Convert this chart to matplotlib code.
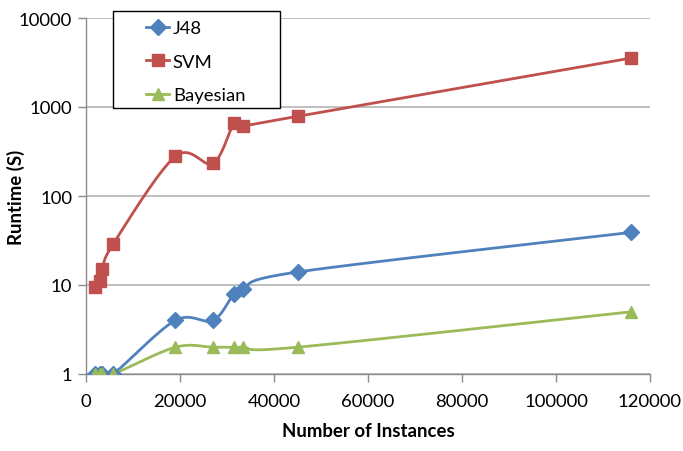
import numpy as np
import matplotlib
matplotlib.use("Agg")
import matplotlib.pyplot as plt
from matplotlib.patches import Rectangle
from matplotlib.ticker import FixedLocator, FixedFormatter, NullLocator

plt.rcParams['font.family'] = ['Lato', 'DejaVu Sans']

instances = [2000, 3000, 3500, 5800, 19000, 27000, 31500, 33500, 45000, 116000]
j48 = [1, 1, 1, 1, 4, 4, 8, 9, 14, 39]
svm = [9.5, 11, 15, 29, 278, 233, 655, 615, 785, 3550]
bayesian = [1, 1, 1, 1, 2, 2, 2, 2, 2, 5]

series = [
    ("J48", j48, "#4F81BD", "D", 8),
    ("SVM", svm, "#C0504D", "s", 9),
    ("Bayesian", bayesian, "#9BBB59", "^", 9),
]


def smooth(x, y, steps=30):
    """Bezier smoothing like spreadsheet 'smoothed line' charts, done in (x, log y)."""
    px = np.asarray(x, float) / 120000.0
    py = np.log10(np.asarray(y, float))
    pts = np.column_stack([px, py])
    n = len(pts)
    out = [pts[0]]
    t = np.linspace(0, 1, steps)[1:, None]
    for i in range(n - 1):
        p0 = pts[max(i - 1, 0)]
        p1 = pts[i]
        p2 = pts[i + 1]
        p3 = pts[min(i + 2, n - 1)]
        c1 = p1 + (p2 - p0) / 6.0
        c2 = p2 - (p3 - p1) / 6.0
        seg = ((1 - t) ** 3) * p1 + 3 * ((1 - t) ** 2) * t * c1 + 3 * (1 - t) * t ** 2 * c2 + t ** 3 * p2
        out.extend(seg)
    out = np.array(out)
    return out[:, 0] * 120000.0, 10 ** out[:, 1]


W, H = 683, 452
fig = plt.figure(figsize=(W / 100, H / 100), dpi=100)
ax = fig.add_axes([86 / W, 1 - 375 / H, 564 / W, 356 / H])

for name, vals, color, marker, ms in series:
    sx, sy = smooth(instances, vals)
    ax.plot(sx, sy, color=color, lw=2.0, zorder=3)
    ax.plot(instances, vals, linestyle='none', marker=marker, markersize=ms,
            color=color, zorder=4)
    # legend proxy: line with marker
    ax.plot([], [], color=color, lw=2.0, marker=marker, markersize=ms, label=name)

ax.set_yscale('log')
ax.set_xlim(0, 120000)
ax.set_ylim(1, 10000)

yt = [1, 10, 100, 1000, 10000]
ax.yaxis.set_major_locator(FixedLocator(yt))
ax.yaxis.set_major_formatter(FixedFormatter([str(v) for v in yt]))
ax.yaxis.set_minor_locator(NullLocator())
xt = list(range(0, 120001, 20000))
ax.set_xticks(xt)
ax.set_xticklabels([str(v) for v in xt])

ax.grid(axis='y', color='#b4b4b4', lw=1.2)
ax.set_axisbelow(True)
for s in ('top', 'right'):
    ax.spines[s].set_visible(False)
for s in ('left', 'bottom'):
    ax.spines[s].set_color('#8c8c8c')
    ax.spines[s].set_linewidth(1.0)
ax.tick_params(axis='both', direction='out', length=6, width=1.0, color='#8c8c8c',
               labelsize=13.3, pad=4, labelcolor='black')
ax.tick_params(axis='x', pad=8)

ax.set_xlabel('Number of Instances', fontsize=13.4, fontweight='bold', labelpad=9)
ax.set_ylabel('Runtime (S)', fontsize=13.4, fontweight='bold')
ax.yaxis.set_label_coords(-61 / 564, 0.5)

# legend frame drawn separately so the entries can sit indented inside it
ax.add_patch(Rectangle((113 / W, 1 - 109 / H), 167 / W, 97 / H,
                       transform=fig.transFigure, facecolor='white',
                       edgecolor='black', lw=1.0, zorder=5, clip_on=False))
leg = ax.legend(loc='upper left', bbox_to_anchor=(146 / W, 1 - 21 / H),
                bbox_transform=fig.transFigure, frameon=False,
                fontsize=13.3, handlelength=1.25, borderpad=0, labelspacing=0.95,
                handletextpad=0.2, borderaxespad=0)
leg.set_zorder(6)

fig.savefig('out.png', dpi=100)
